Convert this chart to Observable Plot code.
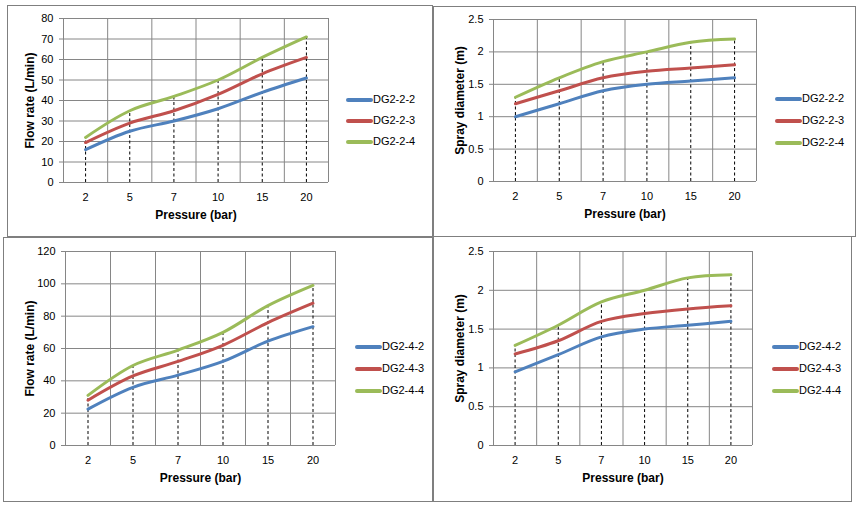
<!DOCTYPE html>
<html><head><meta charset="utf-8">
<script src="https://cdn.jsdelivr.net/npm/d3@7"></script>
<script src="https://cdn.jsdelivr.net/npm/@observablehq/plot@0.6"></script>
<style>
body{margin:0;background:#fff;font-family:"Liberation Sans",Arial,sans-serif;}
#root{position:relative;width:860px;height:506px;overflow:hidden;background:#fff}
.panel{position:absolute;border:1px solid #7f7f7f;box-sizing:border-box;pointer-events:none}
.chart{position:absolute}
.chart svg{overflow:visible;max-width:none}
.leg{position:absolute;height:0}
.leg .sw{position:absolute;left:0;top:-2px;width:27px;height:4px;border-radius:2px}
.leg .tx{position:absolute;left:27px;top:-7px;font-size:11px;line-height:13px;color:#000;white-space:nowrap}
</style>
</head><body>
<div id="root"></div>
<script>
// ---- data ----
const pressures = [2, 5, 7, 10, 15, 20];
const colors = ["#4F81BD", "#C0504D", "#9BBB59"];

const names22 = ["DG2-2-2", "DG2-2-3", "DG2-2-4"];
const flow22_2 = [16, 25, 30, 36, 44, 51];
const flow22_3 = [19.5, 29, 35, 43, 53, 61];
const flow22_4 = [22, 35, 42, 50, 61, 71];
const spray22_2 = [1.0, 1.2, 1.4, 1.5, 1.55, 1.6];
const spray22_3 = [1.2, 1.4, 1.6, 1.7, 1.75, 1.8];
const spray22_4 = [1.3, 1.6, 1.85, 2.0, 2.15, 2.2];

const names24 = ["DG2-4-2", "DG2-4-3", "DG2-4-4"];
const flow24_2 = [22.5, 36, 43.5, 52, 64.5, 73.5];
const flow24_3 = [28, 43, 52, 62, 76, 88];
const flow24_4 = [31, 49.5, 59, 70, 86.5, 99];
const spray24_2 = [0.95, 1.17, 1.4, 1.5, 1.55, 1.6];
const spray24_3 = [1.18, 1.35, 1.6, 1.7, 1.76, 1.8];
const spray24_4 = [1.29, 1.55, 1.85, 2.0, 2.16, 2.2];

const flowTicks22 = [0, 10, 20, 30, 40, 50, 60, 70, 80];
const flowTicks24 = [0, 20, 40, 60, 80, 100, 120];
const sprayTicks = [0, 0.5, 1, 1.5, 2, 2.5];

const root = document.getElementById("root");

function chart(cfg) {
  const idx = pressures.map((_, i) => i);
  const bounds = pressures.map((_, i) => i - 0.5).concat([pressures.length - 0.5]);
  const rows = [];
  cfg.series.forEach((vals, s) => vals.forEach((v, i) => rows.push({i, v, s: cfg.names[s]})));
  const top = idx.map(i => d3.max(cfg.series, vals => vals[i]));
  const yMax = cfg.ticks[cfg.ticks.length - 1];
  const svg = Plot.plot({
    width: cfg.w, height: cfg.h,
    marginLeft: cfg.ml, marginRight: cfg.mr, marginTop: cfg.mt, marginBottom: cfg.mb,
    style: {background: "transparent", fontFamily: "Liberation Sans, Arial, sans-serif", fontSize: "11px", color: "#000"},
    x: {type: "linear", domain: [-0.5, pressures.length - 0.5]},
    y: {type: "linear", domain: [0, yMax]},
    color: {domain: cfg.names, range: colors},
    marks: [
      Plot.gridY(cfg.ticks, {stroke: "#868686", strokeOpacity: 1}),
      Plot.ruleX(bounds, {stroke: "#868686", strokeOpacity: 1}),
      Plot.ruleX(idx, {x: i => i, y1: 0, y2: i => top[i], stroke: "#000", strokeWidth: 1, strokeDasharray: "3,2.5"}),
      Plot.line(rows, {x: "i", y: "v", z: "s", stroke: "s", strokeWidth: 3, curve: "catmull-rom"}),
      Plot.axisY(cfg.ticks, {tickSize: 4, tickPadding: 6, stroke: "#868686", fill: "#000", tickFormat: d => String(d), label: null}),
      Plot.axisX(idx, {tickSize: 0, tickPadding: 11, fill: "#000", tickFormat: i => String(pressures[i]), label: null}),
      Plot.text(["Pressure (bar)"], {frameAnchor: "bottom", dy: 33, textAnchor: "middle", lineAnchor: "middle", fontWeight: "bold", fontSize: 12, fill: "#000"}),
      Plot.text([cfg.yLabel], {frameAnchor: "left", dx: -cfg.yOff, rotate: -90, textAnchor: "middle", lineAnchor: "middle", fontWeight: "bold", fontSize: 12, fill: "#000"})
    ]
  });
  const wrap = document.createElement("div");
  wrap.className = "chart";
  wrap.style.left = cfg.x + "px";
  wrap.style.top = cfg.y + "px";
  wrap.appendChild(svg);
  root.appendChild(wrap);
  cfg.names.forEach((n, k) => {
    const d = document.createElement("div");
    d.className = "leg";
    d.style.left = cfg.lx + "px";
    d.style.top = cfg.ly[k] + "px";
    d.innerHTML = `<div class="sw" style="background:${colors[k]}"></div><div class="tx">${n}</div>`;
    root.appendChild(d);
  });
}

chart({x: 0, y: 0, w: 340, h: 240, ml: 63, mr: 12, mt: 18, mb: 58, yOff: 33,
  ticks: flowTicks22, yLabel: "Flow rate (L/min)", names: names22,
  series: [flow22_2, flow22_3, flow22_4], lx: 346, ly: [100, 121, 142]});
chart({x: 430, y: 0, w: 340, h: 240, ml: 63, mr: 14, mt: 19, mb: 59, yOff: 33,
  ticks: sprayTicks, yLabel: "Spray diameter (m)", names: names22,
  series: [spray22_2, spray22_3, spray22_4], lx: 775, ly: [99, 121, 143]});
chart({x: 0, y: 236, w: 350, h: 264, ml: 65, mr: 15, mt: 15, mb: 55, yOff: 35,
  ticks: flowTicks24, yLabel: "Flow rate (L/min)", names: names24,
  series: [flow24_2, flow24_3, flow24_4], lx: 355, ly: [347, 369, 391]});
chart({x: 430, y: 236, w: 340, h: 264, ml: 63, mr: 18, mt: 15, mb: 55, yOff: 33,
  ticks: sprayTicks, yLabel: "Spray diameter (m)", names: names24,
  series: [spray24_2, spray24_3, spray24_4], lx: 772, ly: [347, 369, 391]});

// panel borders
[[7, 5, 426, 232], [433, 6, 423, 231], [3, 237, 430, 265], [433, 236, 419, 266]].forEach(([l, t, w, h]) => {
  const p = document.createElement("div");
  p.className = "panel";
  p.style.left = l + "px"; p.style.top = t + "px";
  p.style.width = w + "px"; p.style.height = h + "px";
  root.appendChild(p);
});
</script>
</body></html>
